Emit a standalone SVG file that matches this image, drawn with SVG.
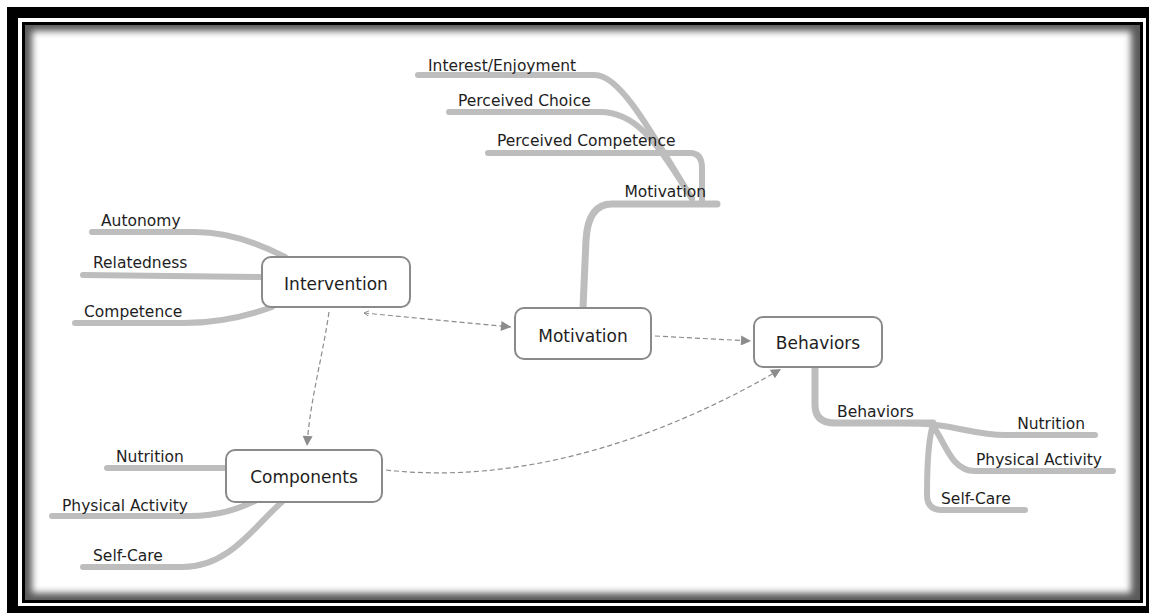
<svg xmlns="http://www.w3.org/2000/svg" width="1149" height="613" viewBox="0 0 1149 613">
<defs>
<style>
.br{fill:none;stroke:#bdbdbd;stroke-width:6;stroke-linecap:round;stroke-linejoin:round}
.lb{font-family:"DejaVu Sans","Liberation Sans",sans-serif;font-size:15.5px;fill:#1e1e1e}
.nd{fill:#fff;stroke:#8a8a8a;stroke-width:2}
.nt{font-family:"DejaVu Sans","Liberation Sans",sans-serif;font-size:17px;fill:#1e1e1e;text-anchor:middle}
.cn{fill:none;stroke:#8c8c8c;stroke-width:1.2;stroke-dasharray:5 3}
</style>
<marker id="ah" viewBox="0 0 10 10" refX="10" refY="5" markerWidth="12" markerHeight="10" markerUnits="userSpaceOnUse" orient="auto">
<path d="M0,0 L10,5 L0,10 Z" fill="#8c8c8c"/>
</marker>
<marker id="tl" viewBox="0 0 10 10" refX="1" refY="5" markerWidth="8" markerHeight="6" markerUnits="userSpaceOnUse" orient="auto">
<path d="M10,0 L1,5 L10,10" fill="none" stroke="#8c8c8c" stroke-width="1.5"/>
</marker>
<filter id="blur" x="-5%" y="-5%" width="110%" height="110%"><feGaussianBlur stdDeviation="3.5"/></filter>
<clipPath id="inner"><rect x="25" y="25" width="1115" height="575"/></clipPath>
</defs>
<g id="frame">
<rect x="7" y="7" width="1142" height="606" fill="#000"/>
<rect x="18" y="18" width="1128" height="588" fill="#fff"/>
<rect x="22" y="22" width="1121" height="581" fill="#000"/>
<rect x="25" y="25" width="1115" height="575" fill="#5a5a5a"/>
<g clip-path="url(#inner)"><rect x="32" y="31" width="1099" height="562" fill="#fff" filter="url(#blur)"/></g>
</g>
<g id="branches">
<path class="br" d="M92,232 L195,232 C230,232 262,245 285,257"/>
<path class="br" d="M83,275 L262,277"/>
<path class="br" d="M75,323 L183,323 C220,323 250,315 272,307"/>
<path class="br" d="M583,308 L586,240 Q588,204 612,204 L717,204" style="stroke-width:7"/>
<path class="br" d="M488,153 L690,153 Q702,153 702,168 L702,200"/>
<path class="br" d="M449,112 L600,112 C640,112 660,150 692,198"/>
<path class="br" d="M418,75 L595,75 C620,75 650,130 692,199"/>
<path class="br" d="M815,367 L815,405 Q815,423 835,423 L933,423" style="stroke-width:7"/>
<path class="br" d="M900,423 C955,423 970,435 1005,435 L1095,435"/>
<path class="br" d="M932,425 C945,440 950,471 975,471 L1113,471"/>
<path class="br" d="M933,425 C928,440 927,470 927,495 Q927,510 942,510 L1025,510"/>
<path class="br" d="M107,468 L228,468"/>
<path class="br" d="M52,516 L190,516 C220,516 240,508 255,501"/>
<path class="br" d="M83,567 L183,567 C230,567 255,525 282,502"/>
</g>
<g id="branch-labels">
<text class="lb" x="101" y="226">Autonomy</text>
<text class="lb" x="93" y="268">Relatedness</text>
<text class="lb" x="84" y="317">Competence</text>
<text class="lb" x="428" y="71">Interest/Enjoyment</text>
<text class="lb" x="458" y="106">Perceived Choice</text>
<text class="lb" x="497" y="146">Perceived Competence</text>
<text class="lb" x="706" y="197" text-anchor="end">Motivation</text>
<text class="lb" x="837" y="417">Behaviors</text>
<text class="lb" x="1085" y="429" text-anchor="end">Nutrition</text>
<text class="lb" x="976" y="465">Physical Activity</text>
<text class="lb" x="941" y="504">Self-Care</text>
<text class="lb" x="116" y="462">Nutrition</text>
<text class="lb" x="62" y="511">Physical Activity</text>
<text class="lb" x="93" y="561">Self-Care</text>
</g>
<g id="connectors">
<path class="cn" d="M364,313 L511,327" marker-start="url(#tl)" marker-end="url(#ah)"/>
<path class="cn" d="M329,312 C322,360 310,400 307,446" marker-end="url(#ah)"/>
<path class="cn" d="M655,336 L751,341" marker-end="url(#ah)"/>
<path class="cn" d="M386,470 C520,485 660,440 781,369" marker-end="url(#ah)"/>
</g>
<g id="node-intervention">
<rect class="nd" x="262" y="257" width="148" height="50" rx="9"/>
<text class="nt" x="336" y="290">Intervention</text>
</g>
<g id="node-motivation">
<rect class="nd" x="515" y="308" width="136" height="51" rx="9"/>
<text class="nt" x="583" y="342">Motivation</text>
</g>
<g id="node-behaviors">
<rect class="nd" x="754" y="317" width="128" height="50" rx="9"/>
<text class="nt" x="818" y="349">Behaviors</text>
</g>
<g id="node-components">
<rect class="nd" x="226" y="450" width="156" height="52" rx="9"/>
<text class="nt" x="304" y="483">Components</text>
</g>
</svg>
